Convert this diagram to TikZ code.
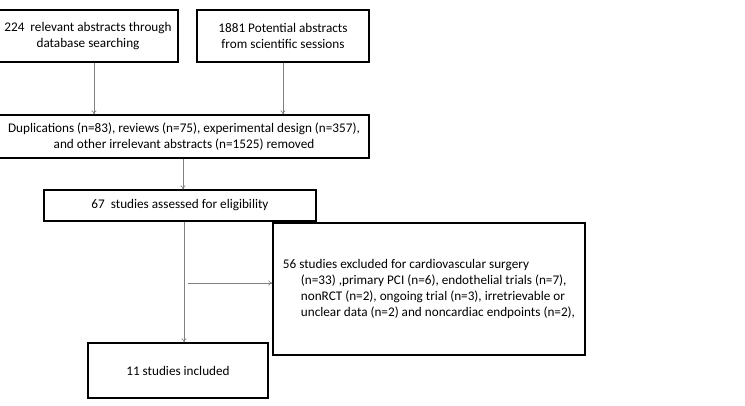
\documentclass[tikz,border=0pt]{standalone}
\usepackage{fontspec}
\setmainfont{Carlito}
\usetikzlibrary{arrows.meta}

\begin{document}
\begin{tikzpicture}[x=1pt, y=-1pt,
  box/.style={draw, line width=1.2pt, inner sep=0pt, align=center,
    font=\fontsize{13.2}{16}\selectfont},
  arr/.style={-{To[length=4pt,width=5pt]}, draw=gray, line width=0.6pt}]
  \useasboundingbox (0,0) rectangle (745,406);
  \node[box, minimum width=180, minimum height=52] (db) at (88,36)
    {224\ \ relevant abstracts through\\database searching};
  \node[box, minimum width=172, minimum height=52] (sess) at (283,36)
    {1881 Potential abstracts\\from scientific sessions};
  \node[box, minimum width=370, minimum height=43] (removed) at (184,136.5)
    {Duplications (n=83), reviews (n=75), experimental design (n=357),\\
     and other irrelevant abstracts (n=1525) removed};
  \node[box, minimum width=272, minimum height=31] (assessed) at (180,205.5)
    {67\ \ studies assessed for eligibility};
  \node[box, minimum width=312, minimum height=132, align=left] (excluded) at (429,289)
    {56 studies excluded for cardiovascular surgery\\
     \hspace*{18pt}(n=33) ,primary PCI (n=6), endothelial trials (n=7),\\
     \hspace*{18pt}nonRCT (n=2), ongoing trial (n=3), irretrievable or\\
     \hspace*{18pt}unclear data (n=2) and noncardiac endpoints (n=2),};
  \node[box, minimum width=180, minimum height=55] (included) at (178,370.5)
    {11 studies included};
  \coordinate (split) at (188,283);
  \draw[arr] ([xshift=6]db.south) -- ([xshift=6]db.south |- removed.north);
  \draw[arr] (sess.south) -- (sess.south |- removed.north);
  \draw[arr] ([xshift=-1]removed.south) -- ([xshift=-1]removed.south |- assessed.north);
  \draw[arr] ([xshift=4]assessed.south) -- ([xshift=4]assessed.south |- included.north);
  \draw[arr] (split) -- (split -| excluded.west);
\end{tikzpicture}
\end{document}
